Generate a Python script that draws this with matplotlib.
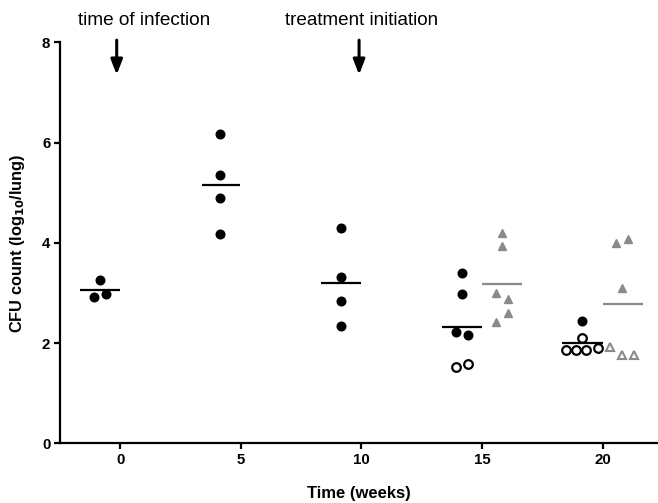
import matplotlib
matplotlib.use("Agg")
import matplotlib.pyplot as plt
import numpy as np

plt.rcParams['font.family'] = ['Liberation Sans', 'DejaVu Sans']

# black group (filled + open circles), gray group (filled + open triangles)
wk0_x = [-1.07, -0.83, -0.58]
wk0_y = [2.91, 3.25, 2.97]

wk5_x = [4.15, 4.15, 4.15, 4.15]
wk5_y = [6.17, 5.35, 4.89, 4.18]

wk10_x = [9.17, 9.17, 9.17, 9.17]
wk10_y = [4.29, 3.32, 2.83, 2.35]

wk15_fill_x = [14.18, 14.18, 13.9, 14.4]
wk15_fill_y = [3.40, 2.98, 2.23, 2.17]
wk15_open_x = [13.9, 14.4]
wk15_open_y = [1.53, 1.58]

wk20_fill_x = [19.16]
wk20_fill_y = [2.45]
wk20_open_x = [19.16, 18.5, 18.9, 19.3, 19.8]
wk20_open_y = [2.11, 1.87, 1.87, 1.87, 1.90]

tri15_x = [15.81, 15.81, 15.56, 16.09, 16.09, 15.56]
tri15_y = [4.20, 3.93, 2.99, 2.87, 2.60, 2.43]

tri20_fill_x = [20.54, 21.06, 20.8]
tri20_fill_y = [4.00, 4.07, 3.09]
tri20_open_x = [20.3, 20.82, 21.3]
tri20_open_y = [1.93, 1.77, 1.77]

# mean lines: (x start, x end, value)
black_means = [(-1.66, 0, 3.05), (3.39, 4.98, 5.15), (8.33, 10, 3.20),
               (13.34, 15, 2.32), (18.33, 20, 2.01)]
gray_means = [(15, 16.66, 3.18), (20, 21.66, 2.78)]

gray = '#8a8a8a'

fig = plt.figure(figsize=(6.58, 5.03), dpi=100)
ax = fig.add_axes([0.0912, 0.1187, 0.909, 0.797])

ms = 6.2
ax.plot(wk0_x + wk5_x + wk10_x + wk15_fill_x + wk20_fill_x,
        wk0_y + wk5_y + wk10_y + wk15_fill_y + wk20_fill_y,
        'o', color='black', ms=ms, ls='none', clip_on=False)
ax.plot(wk15_open_x + wk20_open_x, wk15_open_y + wk20_open_y,
        'o', mfc='white', mec='black', mew=1.6, ms=ms, ls='none')
ax.plot(tri15_x + tri20_fill_x, tri15_y + tri20_fill_y,
        '^', color=gray, ms=ms, ls='none')
ax.plot(tri20_open_x, tri20_open_y,
        '^', mfc='white', mec=gray, mew=1.5, ms=ms - 0.5, ls='none')

for x0, x1, v in black_means:
    ax.plot([x0, x1], [v, v], color='black', lw=1.6, solid_capstyle='butt')
for x0, x1, v in gray_means:
    ax.plot([x0, x1], [v, v], color=gray, lw=1.6, solid_capstyle='butt')

ax.set_xlim(-2.5, 22.3)
ax.set_ylim(0, 8)
ax.set_xticks([0, 5, 10, 15, 20])
ax.set_yticks([0, 2, 4, 6, 8])

for s in ['top', 'right']:
    ax.spines[s].set_visible(False)
for s in ['left', 'bottom']:
    ax.spines[s].set_linewidth(1.6)
ax.tick_params(axis='both', width=1.6, length=4, labelsize=10.8, pad=3)
for lab in ax.get_xticklabels() + ax.get_yticklabels():
    lab.set_fontweight('bold')

ax.set_xlabel('Time (weeks)', fontsize=12, fontweight='bold', labelpad=14)
ax.set_ylabel('CFU count (log$_{\\mathbf{10}}$/lung)', fontsize=11.8,
              fontweight='bold', labelpad=11)

arrow_kw = dict(arrowstyle='-|>,head_width=0.35,head_length=0.9',
                color='black', lw=2.2)
ax.annotate('', xy=(-0.15, 7.3), xytext=(-0.15, 8.1),
            arrowprops=arrow_kw, annotation_clip=False)
ax.annotate('', xy=(9.9, 7.3), xytext=(9.9, 8.1),
            arrowprops=arrow_kw, annotation_clip=False)
ax.text(1.0, 8.43, 'time of infection', fontsize=13.7, ha='center',
        va='center', clip_on=False)
ax.text(10.0, 8.43, 'treatment initiation', fontsize=13.6, ha='center',
        va='center', clip_on=False)

fig.savefig('out.png', dpi=100)
